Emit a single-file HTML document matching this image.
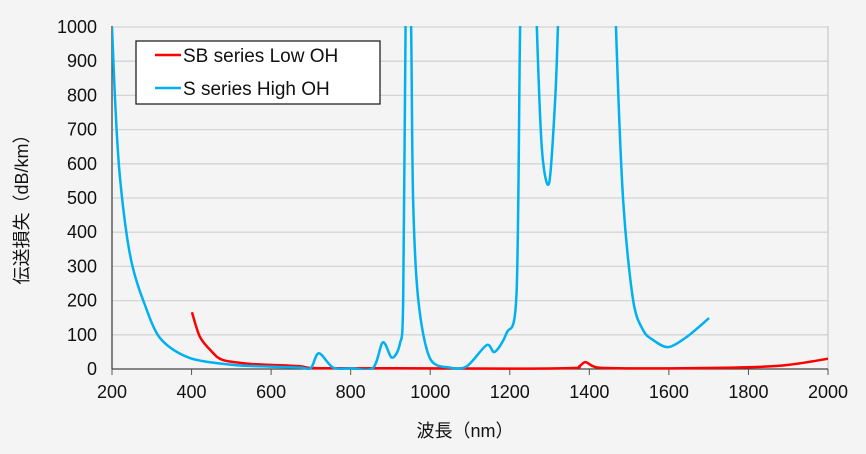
<!DOCTYPE html>
<html><head><meta charset="utf-8"><style>
html,body{margin:0;padding:0;background:#f4f4f4;}
svg{display:block;font-family:"Liberation Sans","Noto Sans CJK JP",sans-serif;}
</style></head><body>
<svg id="chart" width="866" height="454">
<rect width="866" height="454" fill="#f4f4f4"/>
<defs><clipPath id="pc"><rect x="112" y="26" width="716" height="344"/></clipPath></defs>
<g id="grid"></g><g id="axes"></g>
<g id="series" clip-path="url(#pc)"></g>
<g>
<rect x="136" y="41" width="244" height="63" fill="#fff" stroke="#222" stroke-width="1.3"/>
<line x1="155" y1="55" x2="181" y2="55" stroke="#ff0000" stroke-width="2.5"/>
<text x="183" y="62" font-size="19" fill="#111">SB series Low OH</text>
<line x1="155" y1="88" x2="181" y2="88" stroke="#00b0f0" stroke-width="2.5"/>
<text x="183" y="95" font-size="19" fill="#111">S series High OH</text>
</g>
<text x="465" y="437" font-size="18" text-anchor="middle" fill="#111">波長（nm）</text>
<text transform="translate(28,205) rotate(-90)" font-size="18" text-anchor="middle" fill="#111">伝送損失（dB/km）</text>
</svg>
<script>
const xTicks=[200,400,600,800,1000,1200,1400,1600,1800,2000];
const yTicks=[0,100,200,300,400,500,600,700,800,900,1000];
const highX=[200,206,212,220,236,252,278,321,396,504,600,673,700,720,756,800,856,881,904,924,932,938,945,952,957,970,999,1050,1092,1142,1162,1192,1217,1226,1235,1260,1268,1281,1299,1314,1321,1330,1460,1467,1485,1510,1535,1560,1598,1645,1701];
const highY=[1000,830,690,560,400,298,202,90,32,12,7,4,3,46,4,2,3,78,33,75,200,1000,1400,1000,494,202,32,4,8,70,50,105,222,1000,1400,1400,1000,640,544,786,1000,1400,1400,1000,494,202,114,85,64,94,149];
const lowX=[401,421,450,479,547,600,673,700,800,1000,1200,1360,1375,1390,1410,1440,1600,1800,1900,2000];
const lowY=[166,94,52,26,15,12,8,3,2,2,1,3,8,20,8,3,2,5,12,30];
const X=v=>112+(v-200)/1800*716, Y=v=>369-v*0.342;
const NS="http://www.w3.org/2000/svg";
function mk(t,a,p){const e=document.createElementNS(NS,t);for(const k in a)e.setAttribute(k,a[k]);p.appendChild(e);return e;}
const grid=document.getElementById('grid'),axes=document.getElementById('axes'),ser=document.getElementById('series');
yTicks.forEach(v=>{if(v===0)return;const l=mk('line',{x1:112,x2:828,y1:Y(v),y2:Y(v),stroke:'#d4d4d4','stroke-width':1.3},grid);

});
yTicks.forEach(v=>{const t=mk('text',{x:97,y:Y(v)+6,'font-size':18,'text-anchor':'end',fill:'#111'},axes);t.textContent=v;

});
xTicks.forEach(v=>{const t=mk('text',{x:X(v),y:398,'font-size':18,'text-anchor':'middle',fill:'#111'},axes);t.textContent=v;


const k=mk('line',{x1:X(v),x2:X(v),y1:369,y2:375,stroke:'#555'},axes);

});
const ra=mk('line',{x1:828,x2:828,y1:26,y2:369,stroke:'#ccc','stroke-width':1.3},axes);


const ya=mk('line',{x1:112,x2:112,y1:26,y2:369,stroke:'#444','stroke-width':1.3},axes);


const xa=mk('line',{x1:112,x2:828,y1:369,y2:369,stroke:'#444','stroke-width':1.3},axes);


function path(xs,ys){const p=xs.map((x,i)=>[X(x),Y(ys[i])]);let d='M'+p[0];
for(let i=0;i<p.length-1;i++){const p0=p[i-1]||p[i],p1=p[i],p2=p[i+1],p3=p[i+2]||p2;const t=0.15;
d+='C'+(p1[0]+(p2[0]-p0[0])*t)+','+(p1[1]+(p2[1]-p0[1])*t)+' '+(p2[0]-(p3[0]-p1[0])*t)+','+(p2[1]-(p3[1]-p1[1])*t)+' '+p2;}return d;}
const lo=mk('path',{d:path(lowX,lowY),fill:'none',stroke:'#ff0000','stroke-width':2.5},ser);


const hi=mk('path',{d:path(highX,highY),fill:'none',stroke:'#00b0f0','stroke-width':2.5},ser);


</script>
</body></html>
